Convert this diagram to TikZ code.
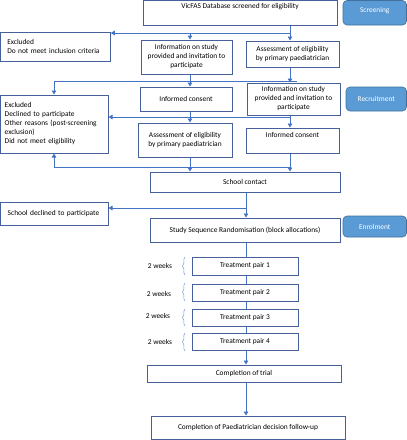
\documentclass[tikz,border=0pt]{standalone}
\usepackage{fontspec}
\setmainfont{Carlito}
\usetikzlibrary{arrows.meta,decorations.pathreplacing,calc}
\definecolor{boxc}{HTML}{46609A}
\definecolor{linec}{HTML}{4472C4}
\definecolor{btnfill}{HTML}{5B9BD5}
\definecolor{btnline}{HTML}{41719C}
\newcommand{\up}[2]{\raisebox{#1}[0pt][0pt]{#2}}
\newcommand{\bx}[7]{\node[#1, minimum width={#5pt-#3pt}, minimum height={#6pt-#4pt}] (#2) at ({(#3+#5)/2},{(#4+#6)/2}) {#7};}
\tikzset{
  base/.style={inner sep=0pt, font=\fontsize{7.4}{9}\selectfont},
  box/.style={base, draw=boxc, line width=1pt, fill=white, align=center},
  lbox/.style={box, align=left},
  btn/.style={base, draw=btnline, line width=0.6pt, fill=btnfill, rounded corners=4pt, text=white},
  conn/.style={draw=linec, line width=0.7pt},
  arr/.style={conn, -{Triangle[width=4.5pt,length=4pt]}},
  wk/.style={base},
  brc/.style={draw=linec!70, line width=0.5pt, decorate, decoration={brace, mirror, amplitude=2.5pt}}
}
\begin{document}
\begin{tikzpicture}[x=1pt,y=-1pt]
\useasboundingbox (0,0) rectangle (407,440);
% boxes
\bx{box}{vic}{143}{0.5}{337}{25}{\up{4pt}{VicFAS Database screened for eligibility}}
\bx{btn}{scr}{343}{0.5}{406.5}{25}{\up{0pt}{Screening}}
\bx{lbox, text width=96pt, inner xsep=7pt}{exc1}{0.5}{32}{110}{61}{Excluded\\Do not meet inclusion criteria}
\bx{box}{info1}{141}{40}{232}{74}{Information on study\\provided and invitation to\\participate}
\bx{box}{ass1}{246}{41}{339}{67}{Assessment of eligibility\\by primary paediatrician}
\bx{lbox, text width=99pt, inner xsep=4pt}{exc2}{0.5}{95}{108}{153}{Excluded\\Declined to participate\\Other reasons (post-screening\\exclusion)\\Did not meet eligibility}
\bx{box}{ic1}{140}{87}{232}{111}{Informed consent}
\bx{box}{info2}{247}{83}{340}{115}{Information on study\\provided and invitation to\\participate}
\bx{btn}{rec}{346}{87}{406.5}{111}{Recruitment}
\bx{box}{ass2}{138}{123}{232}{157}{\raisebox{3pt}{\begin{tabular}{@{}c@{}}Assessment of eligibility\\by primary paediatrician\end{tabular}}}
\bx{box}{ic2}{246}{128}{339}{153}{\up{3pt}{Informed consent}}
\bx{box}{sc}{150}{172}{340}{192}{School contact}
\bx{lbox, text width=93pt, inner xsep=7pt}{sdec}{0.5}{202}{108}{225}{School declined to participate}
\bx{box}{ssr}{150}{218}{340}{242}{Study Sequence Randomisation (block allocations)}
\bx{btn}{enr}{343}{216}{406.5}{237}{Enrolment}
\bx{box}{tp1}{192}{257}{298}{275}{Treatment pair 1}
\bx{box}{tp2}{192}{284}{298}{301}{Treatment pair 2}
\bx{box}{tp3}{192}{309}{298}{326}{Treatment pair 3}
\bx{box}{tp4}{192}{333}{298}{350}{Treatment pair 4}
\bx{box}{cot}{147}{365}{341}{382}{Completion of trial}
\bx{box}{cpd}{151}{416}{345}{439.5}{Completion of Paediatrician decision follow-up}
% week labels and braces
\node[wk] (w1) at (160,266) {2 weeks};
\node[wk] (w2) at (159,294) {2 weeks};
\node[wk] (w3) at (158,316) {2 weeks};
\node[wk] (w4) at (160,342) {2 weeks};
\draw[brc] (185,257) -- (185,275);
\draw[brc] (185,283) -- (185,301);
\draw[brc] (185,309) -- (185,326);
\draw[brc] (185,333) -- (185,351);
% connectors
\coordinate (j1) at (290,33);
\coordinate (j1a) at (190,33);
\draw[conn] (vic.south -| j1) -- (j1);
\draw[arr] (j1) -- (j1 -| exc1.east);
\draw[arr] (j1a) -- (j1a |- info1.north);
\draw[arr] (j1) -- (j1 |- ass1.north);
\coordinate (j2) at (290,81);
\coordinate (j2r) at (297,81);
\coordinate (j2l) at (54,81);
\draw[conn] (ass1.south -| j2) -- (j2);
\draw[conn] (j2r) -- (j2l);
\draw[arr] (j2l) -- (j2l |- exc2.north);
\draw[arr] (info1.south -| j1a) -- (j1a |- ic1.north);
\draw[arr] (j2) -- (j2 |- info2.north);
\coordinate (j3) at (290,117);
\draw[arr] (j3) -- (j3 -| exc2.east);
\draw[arr] (ic1.south -| j1a) -- (j1a |- ass2.north);
\draw[arr] (info2.south -| j3) -- (j3 |- ic2.north);
\coordinate (j4) at (290,167);
\coordinate (j4l) at (54,167);
\draw[conn] (j4) -- (j4l);
\draw[arr] (j4l) -- (j4l |- exc2.south);
\draw[arr] (ass2.south -| j1a) -- (j1a |- sc.north);
\draw[arr] (ic2.south -| j4) -- (j4 |- sc.north);
\coordinate (j5) at (246,208);
\draw[arr] (sc.south -| j5) -- (j5 |- ssr.north);
\draw[arr] (j5) -- (j5 -| sdec.east);
\draw[conn] (ssr.south -| j5) -- (j5 |- tp1.north);
\draw[conn] (tp1.south -| j5) -- (j5 |- tp2.north);
\draw[conn] (tp2.south -| j5) -- (j5 |- tp3.north);
\draw[conn] (tp3.south -| j5) -- (j5 |- tp4.north);
\draw[arr] (tp4.south -| j5) -- (j5 |- cot.north);
\draw[arr] (cot.south -| j5) -- (j5 |- cpd.north);
\end{tikzpicture}
\end{document}
